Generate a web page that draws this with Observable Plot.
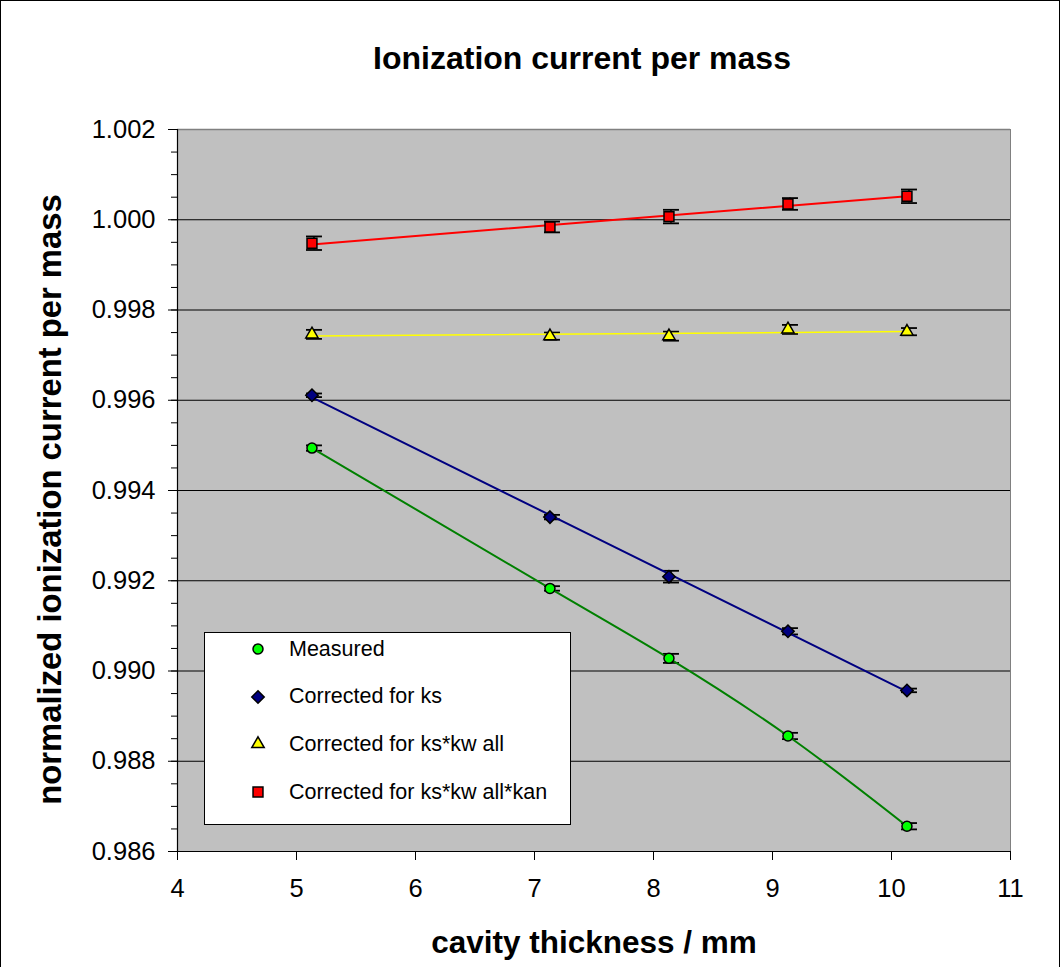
<!DOCTYPE html>
<html>
<head>
<meta charset="utf-8">
<script src="https://cdn.jsdelivr.net/npm/d3@7"></script>
<script src="https://cdn.jsdelivr.net/npm/@observablehq/plot@0.6"></script>
<style>
  html, body { margin: 0; padding: 0; background: #fff; }
  #wrap { position: relative; width: 1060px; height: 967px; font-family: "Liberation Sans", Arial, sans-serif; overflow: hidden; }
  #border { position: absolute; left: 0; top: 0; width: 1060px; height: 967px; box-sizing: border-box; border-left: 1px solid #000; border-top: 1px solid #000; border-right: 1px solid #000; pointer-events: none; }
  #legend { position: absolute; left: 204px; top: 632px; width: 367px; height: 193px; box-sizing: border-box; background: #fff; border: 1.5px solid #000; }
  .entry { position: absolute; left: 0; height: 30px; display: flex; align-items: center; font-size: 21.5px; color: #000; }
  .entry svg { position: absolute; }
  .entry span { position: absolute; left: 84px; white-space: nowrap; }
</style>
</head>
<body>
<div id="wrap"><div id="border"></div></div>
<script>
// ---- data ----
const thickness = [5.13, 7.13, 8.13, 9.13, 10.13];
const measured = [0.99494, 0.99183, 0.99028, 0.98856, 0.98656];
const measuredErr = [0.00006, 0.00005, 0.0001, 0.00007, 0.00007];
const correctedKs = [0.99611, 0.99341, 0.99209, 0.99088, 0.98957];
const correctedKsErr = [0.00004, 0.00005, 0.00013, 0.00007, 0.00004];
const correctedKsKw = [0.99746, 0.99742, 0.99742, 0.99757, 0.99752];
const correctedKsKwErr = [0.0001, 0.00008, 0.0001, 0.0001, 0.00008];
const correctedKsKwKan = [0.99948, 0.99984, 1.00007, 1.00035, 1.00052];
const correctedKsKwKanErr = [0.00015, 0.00012, 0.00015, 0.00013, 0.00015];

const seriesNames = ["Measured", "Corrected for ks", "Corrected for ks*kw all", "Corrected for ks*kw all*kan"];
const seriesFill = ["#00ff00", "#000080", "#ffff00", "#ff0000"];
const seriesLine = ["#008000", "#000080", "#ffff00", "#ff0000"];
const seriesSymbol = ["circle", "diamond2", "triangle", "square"];
const seriesR = [5, 5.6, 4.6, 5.6];

const xTicks = [4, 5, 6, 7, 8, 9, 10, 11];
const yTicks = [0.986, 0.988, 0.990, 0.992, 0.994, 0.996, 0.998, 1.000, 1.002];
const yGrid = [0.988, 0.990, 0.992, 0.994, 0.996, 0.998, 1.000];
const yMinor = d3.range(0, 33).map(i => 0.986 + i * 0.0005);

const titleText = "Ionization current per mass";
const xLabel = "cavity thickness / mm";
const yLabel = "normalized ionization current per mass";

const values = [measured, correctedKs, correctedKsKw, correctedKsKwKan];
const errs = [measuredErr, correctedKsErr, correctedKsKwErr, correctedKsKwKanErr];

const rows = [];
values.forEach((vals, s) => vals.forEach((v, i) => rows.push({series: s, x: thickness[i], y: v, e: errs[s][i]})));
const bySeries = s => rows.filter(r => r.series === s);

const capSymbol = { draw(ctx) { ctx.moveTo(-8, 0); ctx.lineTo(8, 0); } };

const font = "Liberation Sans, Arial, sans-serif";

const marks = [
  Plot.frame({fill: "#c0c0c0", stroke: null}),
  Plot.gridY({ticks: yGrid, stroke: "#000", strokeOpacity: 1, strokeWidth: 1}),
  Plot.ruleY([1.002], {stroke: "#808080", strokeWidth: 1.5}),
  Plot.ruleX([11], {stroke: "#808080", strokeWidth: 1}),
  Plot.ruleX([4], {stroke: "#000", strokeWidth: 1.2}),
  Plot.ruleY([0.986], {stroke: "#000", strokeWidth: 1.2}),
  Plot.axisY({ticks: yMinor, tickSize: 6, text: null, label: null, stroke: "#000"}),
  Plot.axisY({ticks: yTicks, tickSize: 9, tickPadding: 13, tickFormat: d3.format(".3f"), fontSize: 25.5, label: null, fill: "#000", stroke: "#000"}),
  Plot.axisX({ticks: xTicks, tickSize: 9, tickPadding: 18, tickFormat: d3.format("d"), fontSize: 25.5, label: null, fill: "#000", stroke: "#000"}),
  // error bars
  Plot.ruleX(rows, {x: "x", y1: d => d.y - d.e, y2: d => d.y + d.e, dx: 2, stroke: "#000", strokeWidth: 1.6}),
  Plot.dot(rows, {x: "x", y: d => d.y + d.e, dx: 2, symbol: capSymbol, r: 1, stroke: "#000", strokeWidth: 1.8, fill: "none"}),
  Plot.dot(rows, {x: "x", y: d => d.y - d.e, dx: 2, symbol: capSymbol, r: 1, stroke: "#000", strokeWidth: 1.8, fill: "none"}),
  // trend lines
  Plot.line(bySeries(0), {x: "x", y: "y", curve: "natural", stroke: seriesLine[0], strokeWidth: 2}),
  Plot.linearRegressionY(bySeries(1), {x: "x", y: "y", ci: 0, stroke: seriesLine[1], strokeWidth: 2}),
  Plot.linearRegressionY(bySeries(2), {x: "x", y: "y", ci: 0, stroke: seriesLine[2], strokeWidth: 1.5}),
  Plot.linearRegressionY(bySeries(3), {x: "x", y: "y", ci: 0, stroke: seriesLine[3], strokeWidth: 2}),
  // markers
  ...[0, 1, 2, 3].map(s => Plot.dot(bySeries(s), {x: "x", y: "y", symbol: seriesSymbol[s], r: seriesR[s], fill: seriesFill[s], stroke: "#000", strokeWidth: 1.5})),
  // texts
  Plot.text([titleText], {text: d => d, frameAnchor: "top", textAnchor: "middle", dx: -12, dy: -83, fontSize: 32, fontWeight: "bold", fill: "#000"}),
  Plot.text([xLabel], {text: d => d, frameAnchor: "bottom", textAnchor: "middle", dy: 101, fontSize: 31.5, fontWeight: "bold", fill: "#000"}),
  Plot.text([yLabel], {text: d => d, frameAnchor: "left", textAnchor: "middle", rotate: -90, dx: -127, dy: 9, fontSize: 32.8, fontWeight: "bold", fill: "#000"})
];

const chart = Plot.plot({
  width: 1060,
  height: 967,
  marginLeft: 177,
  marginRight: 50,
  marginTop: 129,
  marginBottom: 116,
  style: {fontFamily: font, background: "transparent", color: "#000", overflow: "visible"},
  x: {domain: [4, 11], label: null},
  y: {domain: [0.986, 1.002], label: null},
  symbol: {type: "identity"},
  marks
});
chart.style.position = "absolute";
chart.style.left = "0px";
chart.style.top = "0px";
const wrap = document.getElementById("wrap");
wrap.insertBefore(chart, wrap.firstChild);

// legend
const legend = document.createElement("div");
legend.id = "legend";
const d3Sym = {circle: d3.symbolCircle, diamond2: d3.symbolDiamond2, triangle: d3.symbolTriangle, square: d3.symbolSquare};
seriesNames.forEach((name, s) => {
  const e = document.createElement("div");
  e.className = "entry";
  e.style.top = (1 + s * 47.7) + "px";
  e.style.width = "360px";
  const sz = 24;
  const path = d3.symbol(d3Sym[seriesSymbol[s]], Math.PI * seriesR[s] * seriesR[s])();
  e.innerHTML = `<svg width="${sz}" height="${sz}" viewBox="${-sz/2} ${-sz/2} ${sz} ${sz}" style="left:${53 - sz/2}px"><path d="${path}" fill="${seriesFill[s]}" stroke="#000" stroke-width="1.5"/></svg><span>${name}</span>`;
  legend.appendChild(e);
});
wrap.appendChild(legend);
</script>
</body>
</html>
